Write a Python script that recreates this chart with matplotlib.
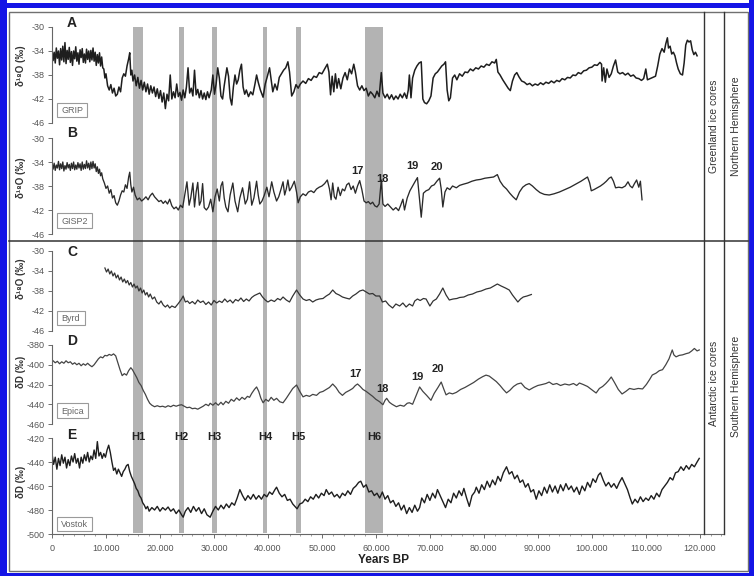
import numpy as np
import matplotlib
matplotlib.use("Agg")
import matplotlib.pyplot as plt
from matplotlib.patches import Rectangle
from matplotlib.ticker import FixedLocator, MultipleLocator, FuncFormatter

plt.rcParams['font.family'] = ['Liberation Sans', 'DejaVu Sans']
plt.rcParams['axes.unicode_minus'] = False

# ---------------- data (age in kyr BP, isotope value) ----------------
grip = [(0.0,-33.8),(0.2,-35.6),(0.4,-34.2),(0.6,-36.0),(0.8,-33.5),(1.0,-35.2),(1.2,-34.0),(1.4,-36.3),
        (1.6,-33.6),(1.8,-35.5),(2.0,-33.2),(2.2,-35.8),(2.4,-32.6),(2.6,-36.1),(2.8,-33.9),(3.0,-35.4),
        (3.2,-33.4),(3.4,-35.9),(3.6,-34.1),(3.8,-36.4),(4.0,-34.0),(4.2,-35.3),(4.4,-33.3),(4.6,-35.7),
        (4.8,-34.3),(5.0,-36.2),(5.2,-33.8),(5.4,-35.1),(5.6,-33.6),(5.8,-35.9),(6.0,-34.5),(6.2,-36.0),
        (6.4,-33.7),(6.6,-35.4),(6.8,-34.0),(7.0,-35.8),(7.2,-33.9),(7.4,-35.5),(7.6,-33.5),(7.8,-35.7),
        (8.0,-34.2),(8.2,-36.4),(8.4,-34.6),(8.6,-36.0),(8.8,-34.3),(9.0,-36.5),(9.2,-35.0),(9.4,-36.8),
        (9.6,-37.0),(9.8,-38.5),(10.0,-37.8),(10.3,-39.8),(10.6,-40.5),(10.9,-39.6),(11.2,-41.0),(11.5,-40.2),
        (11.8,-41.5),(12.1,-41.2),(12.4,-40.0),(12.7,-40.8),(13.0,-38.5),(13.3,-37.8),(13.6,-38.2),(13.9,-36.5),
        (14.2,-35.3),(14.4,-34.3),(14.6,-38.0),(14.8,-37.2),(15.0,-39.0),(15.3,-38.0),(15.6,-39.8),(15.9,-38.4),
        (16.2,-40.2),(16.5,-38.9),(16.8,-40.5),(17.1,-39.2),(17.4,-40.8),(17.7,-39.5),(18.0,-41.2),(18.3,-39.8),
        (18.6,-41.0),(18.9,-40.0),(19.2,-41.6),(19.5,-40.3),(19.8,-41.9),(20.1,-40.6),(20.4,-42.5),(20.7,-41.0),
        (21.0,-43.6),(21.3,-41.2),(21.6,-42.3),(21.9,-38.0),(22.2,-42.0),(22.5,-40.8),(22.8,-41.8),(23.1,-39.5),
        (23.4,-41.6),(23.7,-40.9),(24.0,-42.2),(24.3,-40.5),(24.6,-41.8),(24.9,-40.0),(25.2,-36.8),(25.5,-41.0),
        (25.8,-40.2),(26.1,-41.5),(26.4,-37.2),(26.7,-41.3),(27.0,-40.4),(27.3,-41.8),(27.6,-40.6),(27.9,-42.0),
        (28.2,-41.0),(28.5,-42.1),(28.8,-40.8),(29.1,-41.8),(29.5,-40.5),(29.8,-38.0),(30.1,-41.2),(30.4,-39.5),
        (30.7,-36.8),(31.0,-38.5),(31.3,-41.5),(31.6,-42.0),(31.9,-39.8),(32.4,-36.8),(32.7,-38.2),(33.0,-41.8),
        (33.3,-43.0),(33.6,-40.0),(33.9,-38.0),(34.2,-39.5),(34.5,-38.8),(34.8,-37.2),(35.1,-36.2),(35.4,-40.0),
        (35.7,-41.2),(36.0,-40.5),(36.4,-41.6),(36.8,-40.8),(37.2,-41.3),(37.6,-39.5),(37.9,-38.0),(38.2,-39.2),
        (38.6,-40.5),(39.1,-41.7),(39.5,-39.5),(39.9,-38.2),(40.3,-36.8),(40.6,-38.8),(40.9,-40.8),(41.3,-39.5),
        (41.7,-40.5),(42.1,-38.4),(42.5,-37.8),(42.9,-37.2),(43.3,-36.8),(43.7,-35.8),(44.0,-37.5),(44.4,-41.5),
        (44.8,-40.8),(45.2,-39.6),(45.6,-40.2),(46.0,-39.5),(46.5,-39.0),(47.0,-39.4),(47.5,-38.6),(48.0,-38.9),
        (48.5,-38.2),(49.0,-38.4),(49.5,-37.6),(50.0,-37.8),(50.5,-37.0),(51.0,-36.2),(51.3,-37.5),(51.6,-41.3),
        (51.9,-38.2),(52.2,-40.8),(52.5,-37.8),(52.8,-40.2),(53.1,-38.6),(53.5,-40.3),(53.9,-38.5),(54.3,-37.6),
        (54.7,-38.8),(55.1,-37.0),(55.5,-37.8),(55.9,-36.2),(56.2,-37.5),(56.6,-39.8),(57.0,-40.5),(57.4,-39.8),
        (57.8,-40.6),(58.2,-40.2),(58.6,-41.5),(59.0,-40.8),(59.4,-41.2),(59.8,-41.8),(60.2,-40.7),(60.6,-41.6),
        (61.0,-37.6),(61.3,-41.0),(61.7,-41.8),(62.1,-41.2),(62.5,-42.0),(62.9,-41.3),(63.3,-42.1),(63.7,-41.5),
        (64.1,-42.0),(64.5,-41.2),(64.9,-41.8),(65.3,-41.0),(65.7,-41.9),(66.0,-40.5),(66.2,-38.0),(66.5,-41.8),
        (66.8,-38.5),(67.2,-37.2),(67.6,-36.5),(68.0,-36.0),(68.4,-35.8),(68.7,-42.0),(69.0,-42.6),(69.4,-42.8),
        (69.8,-42.3),(70.2,-41.5),(70.6,-38.5),(71.0,-37.8),(71.4,-37.5),(71.8,-37.0),(72.2,-36.5),(72.6,-36.2),
        (72.9,-35.8),(73.2,-40.5),(73.5,-42.3),(73.8,-41.8),(74.2,-38.5),(74.6,-38.0),(75.0,-38.8),(75.5,-37.8),
        (76.0,-38.2),(76.5,-37.5),(77.0,-37.6),(77.5,-37.0),(78.0,-37.3),(78.5,-36.8),(79.0,-37.0),(79.5,-36.5),
        (80.0,-36.7),(80.5,-36.2),(81.0,-36.4),(81.5,-35.8),(82.0,-36.0),(82.3,-35.4),(82.6,-37.5),(83.0,-38.0),
        (83.5,-38.8),(84.0,-39.5),(84.5,-40.2),(84.9,-40.6),(85.3,-39.0),(85.7,-38.0),(86.1,-37.6),(86.5,-38.3),
        (87.0,-39.0),(87.5,-39.2),(88.0,-39.6),(88.5,-39.4),(89.0,-39.8),(89.5,-39.5),(90.0,-39.7),(90.5,-39.3),
        (91.0,-39.6),(91.5,-39.2),(92.0,-39.4),(92.5,-39.0),(93.0,-39.3),(93.5,-38.9),(94.0,-39.1),(94.5,-38.6),
        (95.0,-38.8),(95.5,-38.4),(96.0,-38.5),(96.5,-38.0),(97.0,-38.1),(97.5,-37.6),(98.0,-37.8),(98.5,-37.3),
        (99.0,-37.2),(99.5,-36.8),(100.0,-36.7),(100.5,-36.3),(101.0,-36.4),(101.5,-35.9),(101.8,-36.2),(101.9,-39.0),
        (102.2,-36.8),(102.5,-39.2),(102.8,-37.0),(103.2,-38.4),(103.6,-37.8),(104.0,-36.5),(104.4,-35.5),(104.8,-37.5),
        (105.2,-37.8),(105.7,-37.6),(106.2,-38.0),(106.7,-37.7),(107.2,-38.2),(107.7,-38.0),(108.2,-38.5),(108.7,-38.6),
        (109.2,-38.9),(109.6,-38.6),(110.0,-37.0),(110.3,-38.8),(110.8,-38.6),(111.3,-38.4),(111.8,-38.2),(112.2,-36.5),
        (112.6,-34.5),(113.0,-33.6),(113.4,-34.2),(113.7,-32.8),(114.0,-31.8),(114.2,-33.5),(114.5,-33.2),(114.8,-34.5),
        (115.1,-34.2),(115.4,-34.8),(115.7,-36.0),(116.0,-37.0),(116.4,-37.8),(116.8,-38.0),(117.1,-36.0),(117.4,-33.0),
        (117.7,-32.2),(118.0,-32.5),(118.3,-32.3),(118.6,-33.8),(118.9,-34.6),(119.2,-34.2),(119.5,-34.8)]

gisp2 = [(0.0,-34.0),(0.2,-35.2),(0.4,-34.2),(0.6,-35.4),(0.8,-34.5),(1.0,-35.0),(1.2,-33.9),(1.4,-35.3),
         (1.6,-34.3),(1.8,-35.1),(2.0,-34.0),(2.2,-35.5),(2.4,-34.6),(2.6,-35.2),(2.8,-34.1),(3.0,-35.0),
         (3.2,-34.4),(3.4,-35.4),(3.6,-34.2),(3.8,-35.1),(4.0,-34.0),(4.2,-35.3),(4.4,-34.5),(4.6,-35.2),
         (4.8,-34.1),(5.0,-35.0),(5.2,-34.3),(5.4,-35.4),(5.6,-34.0),(5.8,-35.2),(6.0,-34.4),(6.2,-35.1),
         (6.4,-33.8),(6.6,-35.0),(6.8,-34.2),(7.0,-35.3),(7.2,-34.0),(7.4,-35.1),(7.6,-33.9),(7.8,-35.0),
         (8.0,-34.3),(8.2,-35.6),(8.4,-34.8),(8.6,-35.9),(8.8,-35.2),(9.0,-36.3),(9.2,-35.8),(9.4,-36.8),
         (9.7,-37.5),(10.0,-38.4),(10.3,-38.0),(10.6,-39.2),(10.9,-38.6),(11.2,-40.0),(11.5,-39.6),(11.8,-40.8),
         (12.1,-41.2),(12.4,-40.5),(12.7,-39.5),(13.0,-38.8),(13.3,-39.0),(13.6,-37.8),(13.9,-38.4),(14.2,-36.5),
         (14.4,-35.7),(14.6,-37.8),(14.8,-39.0),(15.1,-38.2),(15.4,-39.5),(15.8,-40.3),(16.2,-40.0),(16.6,-40.5),
         (17.0,-40.2),(17.4,-39.8),(17.8,-40.3),(18.2,-39.6),(18.6,-39.2),(19.0,-39.8),(19.4,-40.2),(19.8,-40.6),
         (20.2,-40.4),(20.6,-40.9),(21.0,-40.5),(21.4,-41.0),(21.8,-40.2),(22.2,-41.3),(22.6,-41.8),(23.0,-41.5),
         (23.4,-42.0),(23.8,-41.2),(24.2,-41.6),(24.6,-39.5),(25.0,-37.3),(25.4,-41.2),(25.7,-40.0),(26.1,-37.5),
         (26.4,-41.5),(26.7,-39.0),(27.0,-37.4),(27.3,-41.2),(27.6,-40.5),(27.9,-37.6),(28.2,-41.6),(28.6,-42.0),
         (29.0,-41.5),(29.4,-40.2),(29.8,-42.3),(30.2,-39.8),(30.6,-38.5),(31.0,-40.5),(31.3,-38.0),(31.6,-37.3),
         (31.9,-40.0),(32.2,-41.5),(32.6,-42.3),(33.0,-39.5),(33.5,-37.5),(33.9,-40.5),(34.4,-42.3),(34.8,-40.0),
         (35.3,-38.3),(35.8,-41.0),(36.2,-40.2),(36.6,-37.3),(37.0,-41.2),(37.4,-40.0),(37.9,-37.2),(38.2,-39.5),
         (38.5,-41.0),(38.9,-40.5),(39.3,-39.6),(39.8,-38.2),(40.2,-39.8),(40.7,-37.3),(41.1,-39.0),(41.6,-40.5),
         (42.0,-39.8),(42.4,-38.6),(42.8,-37.3),(43.1,-39.5),(43.4,-38.5),(43.7,-37.0),(44.0,-38.8),(44.4,-38.2),
         (44.9,-37.2),(45.3,-39.0),(45.6,-40.8),(46.0,-39.8),(46.5,-39.3),(47.0,-39.6),(47.5,-39.0),(48.0,-38.8),
         (48.5,-39.1),(49.0,-38.5),(49.5,-38.2),(50.0,-38.0),(50.5,-37.6),(51.0,-37.0),(51.4,-38.5),(51.7,-40.3),
         (52.0,-37.5),(52.3,-39.8),(52.6,-40.2),(53.0,-38.2),(53.4,-39.6),(53.8,-38.5),(54.2,-38.8),(54.6,-37.8),
         (55.0,-37.5),(55.4,-38.6),(55.8,-38.0),(56.2,-39.2),(56.6,-38.0),(57.0,-37.1),(57.4,-38.6),(57.8,-40.5),
         (58.2,-40.8),(58.6,-40.6),(59.0,-41.0),(59.4,-40.7),(59.8,-41.3),(60.2,-41.5),(60.6,-41.0),(61.0,-37.0),
         (61.3,-41.0),(61.7,-41.4),(62.2,-41.0),(62.7,-41.5),(63.2,-42.0),(63.7,-41.6),(64.2,-42.1),(64.6,-41.2),
         (65.0,-40.2),(65.3,-42.0),(65.8,-40.0),(66.3,-38.8),(66.8,-38.0),(67.3,-37.2),(67.7,-36.6),(68.0,-39.5),
         (68.4,-43.2),(68.8,-39.2),(69.3,-38.8),(69.8,-38.6),(70.3,-38.0),(70.8,-37.8),(71.3,-37.2),(71.8,-36.7),
         (72.1,-38.5),(72.4,-41.5),(72.8,-39.0),(73.2,-38.3),(73.7,-38.6),(74.2,-38.0),(74.9,-38.3),(75.5,-37.9),
         (76.2,-37.7),(77.0,-37.5),(77.8,-37.2),(78.6,-37.0),(79.4,-36.9),(80.2,-36.7),(81.0,-36.6),(81.8,-36.5),
         (82.5,-36.1),(83.0,-37.2),(83.6,-38.0),(84.2,-38.5),(84.8,-39.2),(85.4,-39.8),(86.0,-40.3),(86.6,-39.0),
         (87.2,-38.2),(87.8,-37.8),(88.4,-37.6),(89.0,-38.0),(89.7,-38.6),(90.4,-39.1),(91.2,-39.4),(92.1,-39.5),
         (93.0,-39.3),(94.0,-39.0),(95.0,-38.6),(96.0,-38.2),(97.0,-37.7),(98.0,-37.2),(98.7,-36.8),(99.2,-36.5),
         (99.6,-37.5),(99.9,-38.8),(100.4,-38.6),(101.0,-38.3),(101.6,-38.0),(102.2,-37.6),(102.7,-37.2),(103.2,-36.7),
         (103.6,-36.5),(104.0,-37.2),(104.4,-38.3),(105.0,-38.2),(105.6,-38.3),(106.2,-38.0),(106.7,-37.3),(107.1,-38.0),
         (107.5,-38.3),(107.9,-37.6),(108.3,-37.0),(108.7,-38.2),(109.0,-37.2),(109.3,-40.3)]

byrd = [(9.8,-33.4),(10.1,-34.2),(10.4,-33.6),(10.7,-34.6),(11.0,-34.0),(11.3,-35.0),(11.6,-34.4),(11.9,-35.4),
        (12.2,-34.8),(12.5,-35.8),(12.8,-35.2),(13.1,-36.2),(13.4,-35.6),(13.7,-36.4),(14.0,-35.9),(14.3,-36.8),
        (14.6,-36.3),(14.9,-37.2),(15.2,-36.6),(15.5,-37.4),(15.8,-37.0),(16.1,-38.0),(16.4,-37.4),(16.7,-38.4),
        (17.0,-37.8),(17.3,-38.8),(17.6,-38.3),(17.9,-39.2),(18.2,-38.6),(18.6,-39.6),(19.0,-39.2),(19.4,-40.2),
        (19.8,-40.6),(20.2,-40.0),(20.6,-40.8),(21.0,-41.2),(21.4,-40.8),(21.8,-41.4),(22.2,-41.0),(22.8,-41.3),
        (23.4,-40.5),(24.0,-39.6),(24.3,-39.0),(24.7,-40.2),(25.1,-40.0),(25.5,-40.5),(26.0,-40.1),(26.5,-40.6),
        (27.0,-39.8),(27.5,-40.3),(28.0,-40.0),(28.5,-40.7),(29.0,-40.2),(29.5,-40.8),(30.0,-39.9),(30.5,-40.4),
        (31.0,-40.0),(31.5,-40.3),(32.0,-39.6),(32.5,-40.2),(33.0,-39.8),(33.5,-40.4),(34.0,-39.7),(34.5,-40.0),
        (35.0,-39.4),(35.5,-40.1),(36.0,-39.6),(36.5,-40.0),(37.0,-39.3),(37.5,-38.9),(38.5,-38.4),(39.0,-39.2),
        (39.5,-39.8),(40.0,-40.2),(40.6,-39.8),(41.2,-40.1),(41.8,-39.5),(42.3,-39.8),(42.8,-39.2),(43.4,-39.8),
        (44.0,-40.2),(44.6,-39.0),(45.3,-37.8),(45.9,-38.8),(46.5,-39.6),(47.1,-39.9),(47.7,-39.7),(48.3,-40.2),
        (48.9,-39.8),(49.5,-39.6),(50.2,-39.5),(50.8,-39.0),(51.4,-38.6),(52.0,-37.8),(52.6,-38.5),(53.2,-38.8),
        (53.8,-39.2),(54.4,-39.4),(55.1,-39.6),(55.7,-39.0),(56.3,-38.6),(57.0,-38.0),(57.6,-37.8),(58.2,-38.2),
        (58.8,-38.6),(59.4,-38.5),(60.0,-39.0),(60.7,-39.0),(61.2,-40.2),(61.8,-40.0),(62.4,-40.8),(63.1,-41.4),
        (63.7,-40.6),(64.4,-41.0),(65.0,-40.4),(65.6,-41.2),(66.2,-40.6),(66.8,-41.0),(67.2,-40.0),(67.7,-39.6),
        (68.2,-39.9),(68.8,-39.5),(69.3,-39.6),(70.0,-41.0),(70.6,-40.0),(71.2,-39.6),(71.8,-38.6),(72.4,-37.4),
        (73.0,-38.8),(73.6,-39.8),(74.3,-39.6),(75.0,-39.5),(75.5,-39.3),(76.3,-39.2),(77.1,-38.8),(77.9,-38.6),
        (78.7,-38.2),(79.5,-38.0),(80.4,-37.6),(81.2,-37.4),(82.0,-36.9),(82.5,-36.6),(83.2,-37.0),(84.0,-37.4),
        (84.7,-37.8),(85.3,-38.8),(86.0,-39.8),(86.3,-40.2),(86.8,-39.6),(87.3,-39.2),(88.0,-39.0),(88.8,-38.7)]

epica = [(0.2,-396),(0.6,-398),(1.0,-396.5),(1.4,-399),(1.8,-397),(2.2,-398.5),(2.6,-396),(3.0,-398),
         (3.4,-397),(3.8,-399.5),(4.2,-398),(4.6,-400),(5.0,-398.5),(5.4,-401),(5.8,-399),(6.2,-400.5),
         (6.6,-398.5),(7.0,-400.5),(7.4,-402),(7.8,-400),(8.2,-397),(8.6,-394),(9.0,-392),(9.4,-393),
         (9.8,-390.5),(10.2,-391),(10.6,-389.5),(11.0,-390.5),(11.4,-389),(11.8,-391),(12.2,-398),(12.6,-405),
         (13.0,-411),(13.4,-409),(13.8,-410.5),(14.2,-406),(14.6,-403),(14.9,-405),(15.3,-409),(15.7,-413),
         (16.1,-418),(16.5,-421),(16.9,-426),(17.3,-430),(17.7,-435),(18.1,-439),(18.5,-441),(19.0,-442.5),
         (19.5,-441.5),(20.0,-442.5),(20.5,-442),(21.0,-443),(21.5,-441.5),(22.0,-442.5),(22.5,-441),(23.0,-442),
         (23.5,-441),(24.0,-440.5),(24.5,-442),(25.0,-443.5),(25.5,-443),(26.0,-444.5),(26.5,-444),(27.0,-445),
         (27.5,-443.5),(28.0,-442),(28.5,-440),(29.0,-441.5),(29.3,-439),(29.8,-441),(30.3,-438.5),(30.8,-441),
         (31.3,-438),(31.7,-440.5),(32.2,-437),(32.7,-439),(33.2,-435),(33.7,-437),(34.2,-433.5),(34.7,-436),
         (35.2,-433),(35.7,-435),(36.2,-432),(36.6,-433),(37.0,-429),(37.5,-425),(37.9,-422.5),(38.3,-427),
         (38.7,-434),(39.1,-438.5),(39.6,-435),(40.1,-437),(40.6,-433),(41.1,-436),(41.6,-434),(42.2,-437.5),
         (42.8,-438.5),(43.4,-434),(44.0,-429),(44.6,-424),(45.3,-420.5),(45.9,-427),(46.5,-432.5),(47.1,-431),
         (47.7,-432),(48.3,-430),(49.0,-431),(49.6,-428),(50.2,-427),(50.8,-425),(51.4,-423),(52.0,-419.5),
         (52.6,-423),(53.2,-428),(53.8,-431),(54.4,-428),(55.1,-426),(55.7,-424),(56.2,-421),(56.6,-419.5),
         (57.1,-422),(57.6,-425),(58.2,-427),(58.8,-429.5),(59.4,-432),(60.0,-435),(60.7,-437.5),(61.3,-440.5),
         (61.7,-436),(62.0,-434),(62.5,-438),(63.0,-440),(63.8,-442.5),(64.5,-441),(65.2,-442),(65.8,-439),
         (66.2,-438.5),(66.8,-440),(67.4,-432),(68.1,-422.5),(68.7,-427),(69.4,-431),(70.2,-436),(70.8,-429),
         (71.5,-423),(72.1,-417.5),(72.6,-425),(73.0,-430.5),(73.6,-428.5),(74.2,-429.5),(74.9,-428),(75.7,-425),
         (76.5,-423),(77.3,-420.5),(78.1,-418),(79.0,-414.5),(79.8,-412),(80.4,-410.5),(81.0,-411.5),(81.6,-414),
         (82.3,-417),(83.0,-421),(83.6,-425),(84.2,-428.5),(84.8,-426),(85.5,-422),(86.2,-419.5),(86.9,-418.5),
         (87.6,-423),(88.4,-425.5),(89.2,-423),(90.0,-421),(90.8,-420),(91.5,-419),(92.1,-417.5),(92.8,-420),
         (93.5,-419),(94.2,-421),(95.0,-419.5),(95.8,-420.5),(96.6,-419),(97.2,-421),(97.7,-418.5),(98.4,-420),
         (99.2,-422),(99.9,-425),(100.4,-427),(100.8,-428.6),(101.4,-424),(102.0,-422),(102.6,-419),(103.1,-416),
         (103.6,-412.4),(104.2,-418),(104.9,-425),(105.6,-429.6),(106.3,-427),(107.0,-424),(107.8,-425),(108.6,-424),
         (109.4,-424.5),(110.1,-420),(110.7,-415),(111.2,-410.4),(111.9,-408.5),(112.5,-406),(113.1,-405),(113.7,-400),
         (114.3,-394),(114.9,-385),(115.2,-390),(115.6,-392),(116.2,-390.5),(116.8,-390),(117.5,-388.7),(118.0,-388),
         (118.5,-386),(119.0,-383.5),(119.5,-386),(119.9,-385)]

vostok = [(0.0,-433),(0.3,-442),(0.6,-436),(0.9,-446),(1.2,-437),(1.5,-443),(1.8,-434),(2.1,-441),
          (2.4,-436),(2.7,-445),(3.0,-438),(3.3,-443),(3.6,-435),(3.9,-440),(4.2,-433),(4.5,-441),
          (4.8,-437),(5.1,-445),(5.4,-436),(5.7,-441),(6.0,-434),(6.3,-439),(6.6,-432),(6.9,-440),
          (7.2,-435),(7.5,-438),(7.8,-430),(8.1,-437),(8.4,-423),(8.7,-435),(9.0,-432),(9.3,-437),
          (9.6,-433),(9.9,-436),(10.2,-430),(10.5,-426),(10.8,-432),(11.1,-440),(11.4,-447),(11.7,-445),
          (12.0,-450),(12.3,-446),(12.6,-449),(12.9,-452),(13.2,-448),(13.5,-446),(13.8,-443),(14.1,-442),
          (14.4,-448),(14.7,-452),(15.0,-455),(15.3,-458),(15.6,-462),(15.9,-464),(16.2,-468),(16.5,-470),
          (16.8,-474),(17.1,-476),(17.4,-479),(17.7,-477),(18.0,-481),(18.5,-478),(19.0,-480),(19.5,-477),
          (20.0,-481),(20.5,-478),(21.0,-480),(21.5,-477.5),(22.0,-481),(22.5,-479),(23.0,-483),(23.5,-480),
          (24.0,-484),(24.3,-486),(24.7,-481),(25.2,-478),(25.7,-482),(26.2,-477),(26.7,-481),(27.2,-478),
          (27.7,-483),(28.2,-479),(28.7,-484),(29.3,-486),(29.8,-481),(30.3,-477),(30.8,-480),(31.3,-476),
          (31.8,-479),(32.3,-475),(32.8,-478),(33.3,-474),(33.8,-476),(34.3,-470),(34.8,-463),(35.3,-468),
          (35.8,-472),(36.3,-468),(36.8,-471),(37.3,-467),(37.8,-471),(38.3,-468),(38.8,-471),(39.3,-467),
          (39.8,-469),(40.3,-465),(40.8,-467),(41.3,-463),(41.6,-461),(42.1,-466),(42.6,-469),(43.1,-467),
          (43.6,-472),(44.1,-471),(44.6,-475),(45.0,-477),(45.4,-479),(45.9,-475),(46.4,-474),(46.9,-471),
          (47.4,-473),(47.9,-469),(48.4,-471),(48.9,-467),(49.4,-470),(49.9,-466),(50.4,-468),(50.8,-463),
          (51.3,-467),(51.8,-465),(52.3,-469),(52.8,-467),(53.3,-470),(53.8,-466),(54.3,-468),(54.8,-464),
          (55.3,-467),(55.8,-462),(56.3,-460),(56.8,-457),(57.2,-456),(57.7,-461),(58.2,-459),(58.7,-465),
          (59.2,-464),(59.7,-468),(60.2,-466),(60.7,-470),(61.2,-465),(61.7,-471),(62.2,-468),(62.7,-474),
          (63.2,-472),(63.7,-477),(64.2,-474),(64.7,-480),(65.2,-476),(65.7,-483),(66.2,-478),(66.7,-482),
          (67.2,-476),(67.7,-481),(68.1,-478),(68.5,-470),(69.0,-474),(69.5,-467),(70.0,-472),(70.5,-466),
          (71.0,-470),(71.4,-463),(71.9,-468),(72.4,-473),(72.9,-478),(73.4,-471),(73.9,-474),(74.4,-466),
          (74.9,-470),(75.4,-464),(75.9,-468),(76.3,-462),(76.8,-470),(77.3,-477),(77.8,-468),(78.3,-465),
          (78.6,-461),(79.1,-466),(79.6,-459),(80.1,-463),(80.6,-456),(81.1,-461),(81.6,-455),(82.1,-459),
          (82.6,-452),(83.1,-456),(83.6,-449),(84.2,-444),(84.7,-450),(85.2,-448),(85.7,-454),(86.2,-451),
          (86.7,-457),(87.2,-455),(87.7,-461),(88.2,-458),(88.7,-465),(89.2,-463),(89.7,-471),(90.2,-464),
          (90.7,-468),(91.2,-461),(91.7,-466),(92.2,-459),(92.7,-465),(93.2,-460),(93.7,-466),(94.2,-459),
          (94.7,-464),(95.2,-458),(95.7,-463),(96.2,-460),(96.7,-465),(97.2,-461),(97.7,-467),(98.2,-460),
          (98.7,-464),(99.2,-457),(99.7,-461),(100.2,-454),(100.7,-457),(101.2,-451),(101.6,-449),(102.1,-455),
          (102.6,-460),(103.1,-457),(103.6,-461),(104.1,-458),(104.6,-462),(105.1,-457),(105.6,-453),(106.1,-458),
          (106.6,-463),(107.1,-470),(107.5,-475),(108.0,-471),(108.5,-474),(109.0,-469),(109.5,-473),(110.0,-470),
          (110.5,-472),(111.0,-468),(111.5,-471),(112.0,-466),(112.5,-469),(113.0,-463),(113.5,-460),(114.0,-457),
          (114.5,-453),(115.0,-455),(115.5,-449),(116.0,-448),(116.5,-444),(117.0,-447),(117.5,-443),(118.0,-446),
          (118.5,-442),(119.0,-444),(119.5,-440),(119.9,-437)]

heinrich_names = ['H1', 'H2', 'H3', 'H4', 'H5', 'H6']
heinrich_kyr = [(15.0, 16.9), (23.5, 24.4), (29.6, 30.5), (39.1, 39.8), (45.2, 46.1), (58.0, 61.3)]

do_labels = ['17', '18', '19', '20']
do_kyr_gisp2 = [56.5, 61.3, 66.7, 71.3]
do_val_gisp2 = [-35.5, -36.8, -34.7, -34.8]
do_kyr_epica = [56.3, 61.3, 67.6, 71.5]
do_val_epica = [-409.4, -424.6, -412.4, -404.3]

xtick_years = [0, 10000, 20000, 30000, 40000, 50000, 60000, 70000, 80000, 90000, 100000, 110000, 120000]
d18o_ticks = [-30, -34, -38, -42, -46]
epica_ticks = [-380, -400, -420, -440, -460]
vostok_ticks = [-420, -440, -460, -480, -500]

# ---------------- layout ----------------
W, H = 754, 576
fig = plt.figure(figsize=(W / 100, H / 100), dpi=100)
fig.patch.set_facecolor('white')


def rect(x0, y0, x1, y1):
    return [x0 / W, 1 - y1 / H, (x1 - x0) / W, (y1 - y0) / H]


XMAX = 124300
X0, X1 = 52, 723
TICKC = '#555555'

# Heinrich bands
bax = fig.add_axes(rect(X0, 27, X1, 533))
bax.set_xlim(0, XMAX)
bax.set_ylim(0, 1)
bax.axis('off')
for (a, b) in heinrich_kyr:
    bax.axvspan(a * 1000, b * 1000, color='#b3b3b3', lw=0)

d18o_label = 'δ¹⁸O (‰)'
dD_label = 'δD (‰)'

panels = [
    dict(letter='A', data=grip, top=27, bot=123, ticks=d18o_ticks, name='GRIP', lab=d18o_label,
         laby=66, box=(57, 103, 87, 117), color='#1e1e1e', lw=1.1, lety=23),
    dict(letter='B', data=gisp2, top=138, bot=234, ticks=d18o_ticks, name='GISP2', lab=d18o_label,
         laby=178, box=(57, 213, 92, 228), color='#2a2a2a', lw=0.95, lety=133),
    dict(letter='C', data=byrd, top=251, bot=331, ticks=d18o_ticks, name='Byrd', lab=d18o_label,
         laby=279, box=(57, 311, 85, 325), color='#333333', lw=0.9, lety=252),
    dict(letter='D', data=epica, top=345, bot=424, ticks=epica_ticks, name='Epica', lab=dD_label,
         laby=372, box=(57, 403, 88, 418), color='#444444', lw=0.9, lety=341),
    dict(letter='E', data=vostok, top=438, bot=534, ticks=vostok_ticks, name='Vostok', lab=dD_label,
         laby=482, box=(57, 517, 92, 531), color='#1e1e1e', lw=1.0, lety=435),
]

axes = []
for p in panels:
    ax = fig.add_axes(rect(X0, p['top'], X1, p['bot']))
    ax.patch.set_alpha(0)
    t, v = np.array(p['data']).T
    ax.plot(t * 1000, v, color=p['color'], lw=p['lw'], solid_joinstyle='round')
    ax.set_xlim(0, XMAX)
    ax.set_ylim(min(p['ticks']), max(p['ticks']))
    ax.yaxis.set_major_locator(FixedLocator(p['ticks']))
    ax.yaxis.set_major_formatter(FuncFormatter(lambda val, pos: '%d' % val))
    for s in ['top', 'right', 'bottom']:
        ax.spines[s].set_visible(False)
    ax.spines['left'].set_color('#666666')
    ax.spines['left'].set_linewidth(0.8)
    ax.tick_params(axis='y', labelsize=6.5, colors=TICKC, length=3, width=0.6, pad=2)
    ax.tick_params(axis='x', bottom=False, labelbottom=False)
    axes.append(ax)

# bottom axis on Vostok panel
axE = axes[-1]
axE.spines['bottom'].set_visible(True)
axE.spines['bottom'].set_color('#666666')
axE.spines['bottom'].set_linewidth(0.8)
axE.xaxis.set_major_locator(FixedLocator(xtick_years))
axE.xaxis.set_minor_locator(MultipleLocator(2000))
axE.xaxis.set_major_formatter(FuncFormatter(lambda val, pos: ('%d' % val) if val == 0 else '{:,}'.format(int(val)).replace(',', '.')))
axE.tick_params(axis='x', bottom=True, labelbottom=True, labelsize=6.5, colors=TICKC, length=3, width=0.6, pad=4)
axE.tick_params(axis='x', which='minor', length=1.5, width=0.5, colors='#777777')

# DO event numbers
for lab, x, y in zip(do_labels, do_kyr_gisp2, do_val_gisp2):
    axes[1].text(x * 1000, y, lab, ha='center', va='center', fontsize=8, fontweight='bold', color='#222222')
for lab, x, y in zip(do_labels, do_kyr_epica, do_val_epica):
    axes[3].text(x * 1000, y, lab, ha='center', va='center', fontsize=8, fontweight='bold', color='#222222')

# Heinrich labels (in Vostok panel data space)
for name, (a, b) in zip(heinrich_names, heinrich_kyr):
    axE.text((a + b) / 2 * 1000, -419.5, name, ha='center', va='center', fontsize=8,
             fontweight='bold', color='#222222', clip_on=False)

# ---------------- frame / decorations in pixel space ----------------
fax = fig.add_axes([0, 0, 1, 1])
fax.set_xlim(0, W)
fax.set_ylim(H, 0)
fax.axis('off')
fax.patch.set_alpha(0)

blue = '#1414e6'
for (x, y, w, h) in [(0, 2.5, W, 5.5), (0, 0, 7, H), (0, 572.5, W, 3.5), (748.8, 0, 5.2, H)]:
    fax.add_patch(Rectangle((x, y), w, h, facecolor=blue, edgecolor='none'))

fax.add_patch(Rectangle((8.5, 11.5), 739.5, 559, fill=False, edgecolor='#707070', lw=1.0))
fax.plot([8.5, 748], [241, 241], color='#333333', lw=1.1)
fax.plot([704, 704], [11.5, 533.5], color='#333333', lw=1.0)
fax.plot([724, 724], [11.5, 533.5], color='#333333', lw=1.0)

for p in panels:
    x0, y0, x1, y1 = p['box']
    fax.add_patch(Rectangle((x0, y0), x1 - x0, y1 - y0, fill=False, edgecolor='#9a9a9a', lw=0.8))
    fax.text(x0 + 4, (y0 + y1) / 2 + 0.5, p['name'], ha='left', va='center', fontsize=6.5, color='#666666')
    fax.text(72, p['lety'], p['letter'], ha='center', va='center', fontsize=10, fontweight='bold', color='#222222')
    fax.text(21, p['laby'], p['lab'], ha='center', va='center', rotation=90, fontsize=7,
             fontweight='bold', color='#333333')

fax.text(383, 560, 'Years BP', ha='center', va='center', fontsize=8.5, fontweight='bold', color='#222222')
fax.text(714, 126, 'Greenland ice cores', rotation=90, ha='center', va='center', fontsize=7.5, color='#333333')
fax.text(736, 126, 'Northern Hemisphere', rotation=90, ha='center', va='center', fontsize=7.5, color='#333333')
fax.text(714, 383, 'Antarctic ice cores', rotation=90, ha='center', va='center', fontsize=7.5, color='#333333')
fax.text(736, 386, 'Southern Hemisphere', rotation=90, ha='center', va='center', fontsize=7.5, color='#333333')

fig.savefig('out.png', dpi=100, facecolor='white')
